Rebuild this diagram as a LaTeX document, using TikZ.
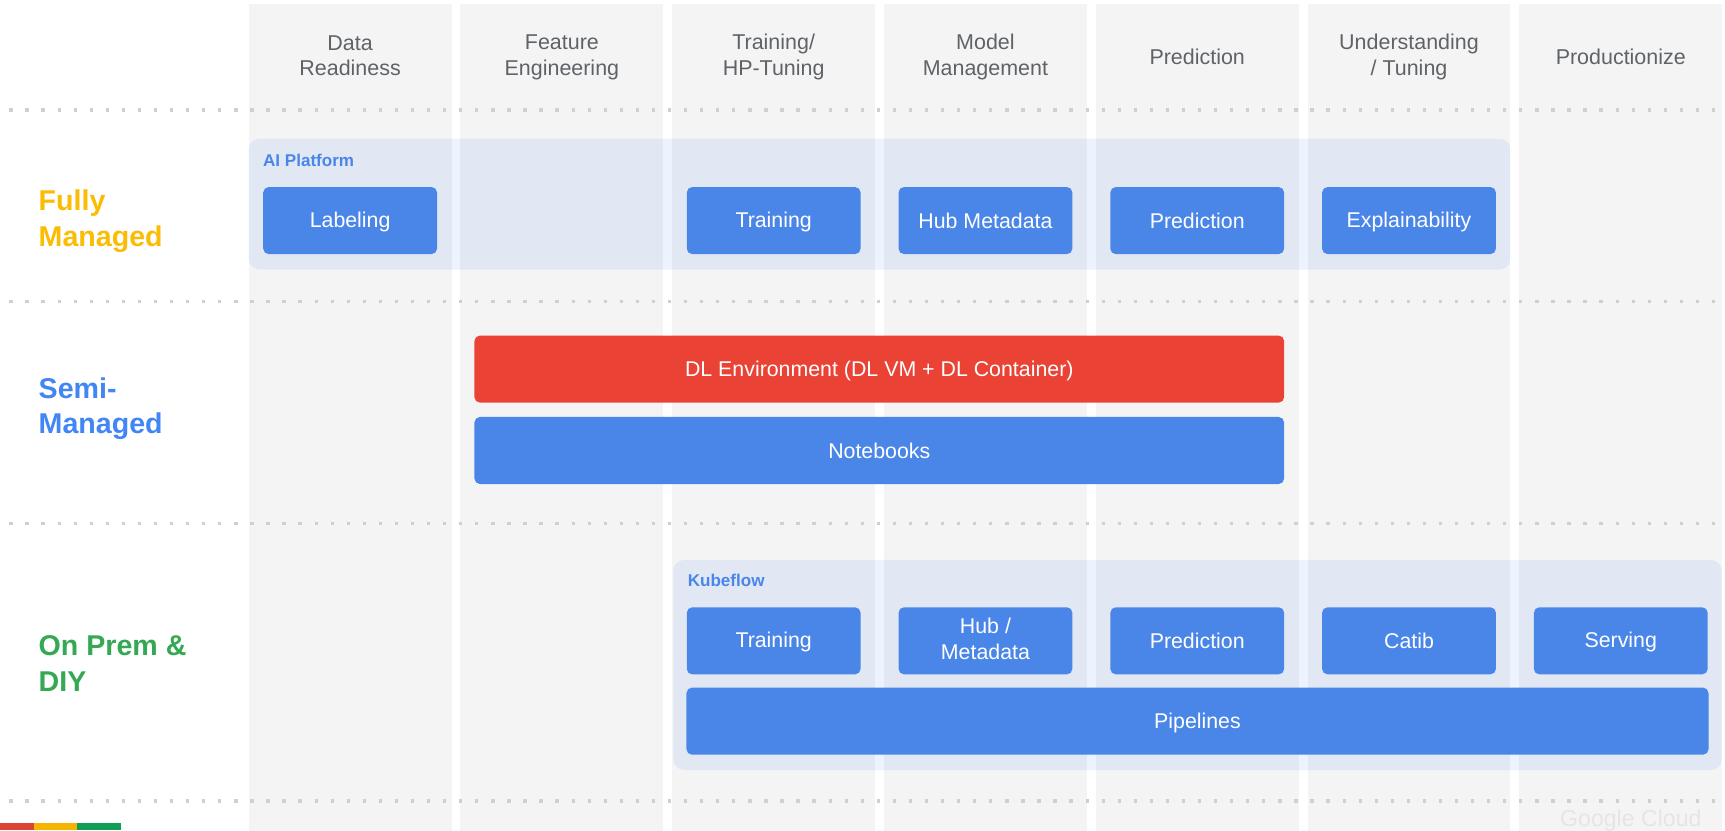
\documentclass[tikz,border=0pt]{standalone}
\usepackage{fontspec}
\setmainfont{Liberation Sans}
\definecolor{colbg}{HTML}{F4F4F4}
\definecolor{hdrgray}{HTML}{5F6368}
\definecolor{boxblue}{HTML}{4A86E8}
\definecolor{gblue}{HTML}{4285F4}
\definecolor{gred}{HTML}{EA4335}
\definecolor{gyellow}{HTML}{FBBC04}
\definecolor{ggreen}{HTML}{34A853}
\definecolor{dotgray}{HTML}{D0D0D0}
\definecolor{barred}{HTML}{DB4437}
\definecolor{baryellow}{HTML}{F4B400}
\definecolor{bargreen}{HTML}{0F9D58}
\newcommand{\boxstrut}{\rule[-3pt]{0pt}{20pt}}
\newcommand{\hdrstrut}{\rule[-3pt]{0pt}{19.5pt}}
\newcommand{\rowstrut}{\rule[-4pt]{0pt}{26pt}}
\tikzset{
  colbox/.style={fill=colbg, draw=none, minimum width=184.5pt, minimum height=752pt, inner sep=0pt, anchor=north},
  hdr/.style={text=hdrgray, font=\fontsize{19.5}{23.5}\selectfont, align=center, inner sep=0pt,
    execute at begin node=\hdrstrut, execute at end node=\hdrstrut},
  bluebox/.style={fill=boxblue, rounded corners=5pt, text=white, font=\fontsize{19.4}{23.5}\selectfont, align=center, minimum height=61pt, minimum width=158pt, inner sep=0pt,
    execute at begin node=\boxstrut, execute at end node=\boxstrut},
  redbox/.style={bluebox, fill=gred},
  container/.style={fill=gblue, fill opacity=0.1, rounded corners=10pt, inner sep=0pt},
  grouplabel/.style={text=boxblue, font=\bfseries\fontsize{15.5}{18}\selectfont, anchor=west, inner sep=0pt},
  rowlabel/.style={font=\bfseries\fontsize{26}{32.5}\selectfont, align=left, anchor=west, inner sep=0pt,
    execute at begin node=\rowstrut, execute at end node=\rowstrut},
  dotline/.style={draw=dotgray, line width=3pt, dash pattern=on 3pt off 11.6pt}
}
\begin{document}
\begin{tikzpicture}[x=1pt,y=-1pt]
\useasboundingbox (0,0) rectangle (1568,755);
% columns
\foreach \i/\c in {1/318.25,2/510.75,3/703.25,4/895.75,5/1088.25,6/1280.75,7/1473.25}{
  \node[colbox] (col\i) at (\c,3.5) {};
}
% headers
\node[hdr] (h1) at (318.25,52) {Data\\Readiness};
\node[hdr] (h2) at (510.75,52) {Feature\\Engineering};
\node[hdr] (h3) at (703.25,52) {Training/\\HP-Tuning};
\node[hdr] (h4) at (895.75,52) {Model\\Management};
\node[hdr] (h5) at (1088.25,52) {Prediction};
\node[hdr] (h6) at (1280.75,52) {Understanding\\/ Tuning};
\node[hdr] (h7) at (1473.25,52) {Productionize};
% dotted separators
\coordinate (d1a) at (8.5,100); \coordinate (d1b) at (1566,100);
\coordinate (d2a) at (8.5,274); \coordinate (d2b) at (1566,274);
\coordinate (d3a) at (8.5,476); \coordinate (d3b) at (1566,476);
\coordinate (d4a) at (8.5,728); \coordinate (d4b) at (1566,728);
\draw[dotline] (d1a) -- (d1b);
\draw[dotline] (d2a) -- (d2b);
\draw[dotline] (d3a) -- (d3b);
\draw[dotline] (d4a) -- (d4b);
% row labels
\node[rowlabel, text=gyellow] (r1) at (35,201) {Fully\\Managed};
\node[rowlabel, text=gblue] (r2) at (35,371.5) {Semi-\\Managed};
\node[rowlabel, text=ggreen] (r3) at (35,605) {On Prem \&\\DIY};
% AI Platform
\node[container, minimum width=1147pt, minimum height=119pt] (aip) at (799.5,185.5) {};
\node[grouplabel] (aipl) at (239,146) {AI Platform};
\node[bluebox] (lab) at (318.25,200.5) {Labeling};
\node[bluebox] (tr1) at (703.25,200.5) {Training};
\node[bluebox] (hub1) at (895.75,200.5) {Hub Metadata};
\node[bluebox] (pr1) at (1088.25,200.5) {Prediction};
\node[bluebox] (ex1) at (1280.75,200.5) {Explainability};
% Semi-managed
\node[redbox, minimum width=736pt] (dl) at (799.25,335.5) {DL Environment (DL VM + DL Container)};
\node[bluebox, minimum width=736pt] (nb) at (799.25,409.5) {Notebooks};
% Kubeflow
\node[container, minimum width=953pt, minimum height=191pt] (kf) at (1088.5,604.5) {};
\node[grouplabel] (kfl) at (625,528) {Kubeflow};
\node[bluebox] (tr2) at (703.25,582.5) {Training};
\node[bluebox] (hub2) at (895.75,582.5) {Hub /\\Metadata};
\node[bluebox] (pr2) at (1088.25,582.5) {Prediction};
\node[bluebox] (cat) at (1280.75,582.5) {Catib};
\node[bluebox] (srv) at (1473.25,582.5) {Serving};
\node[bluebox, minimum width=929pt] (pipe) at (1088.5,655.5) {Pipelines};
% colour bar
\fill[barred] (0,748) rectangle (31,754);
\fill[baryellow] (31,748) rectangle (70,754);
\fill[bargreen] (70,748) rectangle (110,754);
% watermark
\node[text=black!10, font=\fontsize{21}{21}\selectfont, anchor=north west, inner sep=0pt] (gc) at (1418,736) {Google Cloud};
\end{tikzpicture}
\end{document}
